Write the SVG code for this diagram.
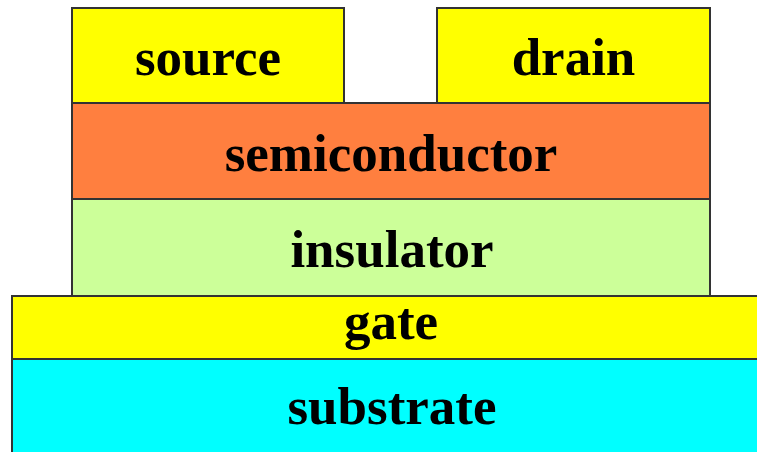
<svg xmlns="http://www.w3.org/2000/svg" width="757" height="452" viewBox="0 0 757 452">
<style>
.layer{stroke:#333333;stroke-width:2}
.lbl{font-family:"Liberation Serif","Times New Roman",serif;font-weight:bold;font-size:53px;fill:#000;text-anchor:middle}
</style>
<rect width="757" height="452" fill="#ffffff"/>
<g id="substrate">
<rect class="layer" x="12" y="359" width="760" height="100" fill="#00FFFF"/>
<text class="lbl" x="392" y="424">substrate</text>
</g>
<g id="gate">
<rect class="layer" x="12" y="296" width="760" height="63" fill="#FFFF00"/>
<text class="lbl" x="391" y="339">gate</text>
</g>
<g id="insulator">
<rect class="layer" x="72" y="199" width="638" height="97" fill="#CCFF99"/>
<text class="lbl" x="392" y="267">insulator</text>
</g>
<g id="semiconductor">
<rect class="layer" x="72" y="103" width="638" height="96" fill="#FF7F3F"/>
<text class="lbl" x="391" y="171">semiconductor</text>
</g>
<g id="source">
<rect class="layer" x="72" y="8" width="272" height="95" fill="#FFFF00"/>
<text class="lbl" x="208" y="75">source</text>
</g>
<g id="drain">
<rect class="layer" x="437" y="8" width="273" height="95" fill="#FFFF00"/>
<text class="lbl" x="573.5" y="75">drain</text>
</g>
<g id="connectors"/>
</svg>
